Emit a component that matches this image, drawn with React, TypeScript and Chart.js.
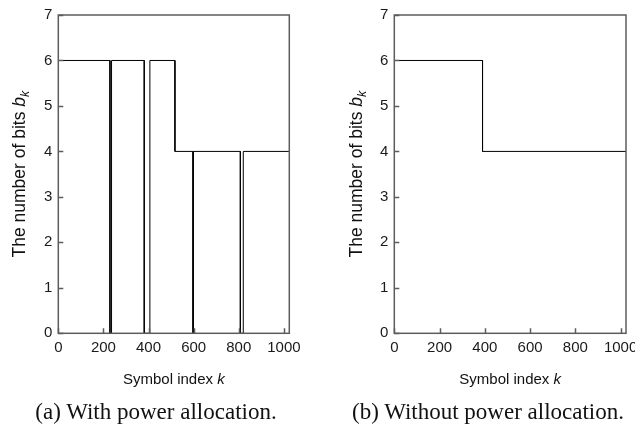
import React, { useEffect, useRef } from "react";
import { Chart, registerables } from "chart.js";
Chart.register(...registerables);

// ---- data ----
const X_MIN = 0;
const X_MAX = 1024;
const Y_MIN = 0;
const Y_MAX = 7;
const xTickValues = [0, 200, 400, 600, 800, 1000];
const yTickValues = [0, 1, 2, 3, 4, 5, 6, 7];

// (a) with power allocation: stair vertices (symbol index, bits)
const withPAIndex = [0, 229, 229, 236, 236, 381, 381, 406, 406, 517, 517, 597, 597, 599, 599, 807, 807, 820, 820, 1024];
const withPABits = [6, 6, 0, 0, 6, 6, 0, 0, 6, 6, 4, 4, 0, 0, 4, 4, 0, 0, 4, 4];

// (b) without power allocation
const withoutPAIndex = [0, 390, 390, 1024];
const withoutPABits = [6, 6, 4, 4];

const xTitle = "Symbol index ";
const xTitleVar = "k";
const yTitle = "The number of bits ";
const yTitleVar = "b";
const yTitleSub = "k";
const captionA = "(a) With power allocation.";
const captionB = "(b) Without power allocation.";

const SANS = "'Liberation Sans', Arial, Helvetica, sans-serif";
const TICK_FONT = 15;
const XT_FONT = 15;
const YT_FONT = 17.5;

type Cfg = {
  xs: number[];
  ys: number[];
  width: number;
  height: number;
  yAxisWidth: number;
  padRight: number;
  padTop: number;
  xAxisHeight: number;
  yTitleX: number;
  xTitleY: number;
};

const framePlugin = {
  id: "frame",
  afterDatasetsDraw(chart: any, _args: any, opts: any) {
    const { ctx, chartArea: a } = chart;
    const xs = chart.scales.x;
    const ys = chart.scales.y;
    ctx.save();
    ctx.strokeStyle = "#5c5c5c";
    ctx.lineWidth = 1.5;
    // inner ticks
    ctx.beginPath();
    for (const v of xTickValues) {
      const px = Math.round(xs.getPixelForValue(v)) + 0.5;
      ctx.moveTo(px, a.bottom);
      ctx.lineTo(px, a.bottom - 5);
    }
    for (const v of yTickValues) {
      const py = Math.round(ys.getPixelForValue(v)) + 0.5;
      ctx.moveTo(a.left, py);
      ctx.lineTo(a.left + 5, py);
    }
    ctx.stroke();
    ctx.strokeRect(a.left, a.top, a.right - a.left, a.bottom - a.top);

    // x title
    ctx.fillStyle = "#111";
    ctx.textBaseline = "middle";
    ctx.font = `${XT_FONT}px ${SANS}`;
    const w1 = ctx.measureText(xTitle).width;
    ctx.font = `italic ${XT_FONT}px ${SANS}`;
    const w2 = ctx.measureText(xTitleVar).width;
    const cx = (a.left + a.right) / 2;
    const x0 = cx - (w1 + w2) / 2;
    ctx.font = `${XT_FONT}px ${SANS}`;
    ctx.textAlign = "left";
    ctx.fillText(xTitle, x0, opts.xTitleY);
    ctx.font = `italic ${XT_FONT}px ${SANS}`;
    ctx.fillText(xTitleVar, x0 + w1, opts.xTitleY);

    // y title (rotated)
    ctx.save();
    const cy = (a.top + a.bottom) / 2;
    ctx.translate(opts.yTitleX, cy);
    ctx.rotate(-Math.PI / 2);
    ctx.font = `${YT_FONT}px ${SANS}`;
    const t1 = ctx.measureText(yTitle).width;
    ctx.font = `italic ${YT_FONT}px ${SANS}`;
    const t2 = ctx.measureText(yTitleVar).width;
    ctx.font = `italic ${YT_FONT * 0.7}px ${SANS}`;
    const t3 = ctx.measureText(yTitleSub).width;
    const s = -(t1 + t2 + t3) / 2;
    ctx.textBaseline = "alphabetic";
    const base = YT_FONT * 0.36;
    ctx.font = `${YT_FONT}px ${SANS}`;
    ctx.fillText(yTitle, s, base);
    ctx.font = `italic ${YT_FONT}px ${SANS}`;
    ctx.fillText(yTitleVar, s + t1, base);
    ctx.font = `italic ${YT_FONT * 0.7}px ${SANS}`;
    ctx.fillText(yTitleSub, s + t1 + t2, base + YT_FONT * 0.2);
    ctx.restore();
    ctx.restore();
  },
};

function StairChart(props: { cfg: Cfg; left: number }) {
  const ref = useRef<HTMLCanvasElement | null>(null);
  const { cfg } = props;
  useEffect(() => {
    if (!ref.current) return;
    const data = cfg.xs.map((x, i) => ({ x, y: cfg.ys[i] }));
    const chart = new Chart(ref.current, {
      type: "line",
      data: {
        datasets: [
          {
            data,
            borderColor: "#000",
            borderWidth: 1,
            pointRadius: 0,
            tension: 0,
            fill: false,
          },
        ],
      },
      options: {
        animation: false,
        responsive: false,
        devicePixelRatio: 1,
        layout: { padding: { left: 0, right: cfg.padRight, top: cfg.padTop, bottom: 0 } },
        plugins: {
          legend: { display: false },
          tooltip: { enabled: false },
          frame: { yTitleX: cfg.yTitleX, xTitleY: cfg.xTitleY },
        } as any,
        scales: {
          x: {
            type: "linear",
            min: X_MIN,
            max: X_MAX,
            grid: { display: false, drawTicks: false },
            border: { display: false },
            afterBuildTicks: (s: any) => {
              s.ticks = xTickValues.map((v) => ({ value: v }));
            },
            ticks: {
              autoSkip: false,
              maxRotation: 0,
              minRotation: 0,
              padding: 6,
              color: "#1a1a1a",
              font: { family: SANS, size: TICK_FONT },
              callback: (v: any) => String(v),
            },
            afterFit: (s: any) => {
              s.height = cfg.xAxisHeight;
            },
          },
          y: {
            type: "linear",
            min: Y_MIN,
            max: Y_MAX,
            grid: { display: false, drawTicks: false },
            border: { display: false },
            afterBuildTicks: (s: any) => {
              s.ticks = yTickValues.map((v) => ({ value: v }));
            },
            ticks: {
              padding: 6,
              color: "#1a1a1a",
              font: { family: SANS, size: TICK_FONT },
              callback: (v: any) => String(v),
            },
            afterFit: (s: any) => {
              s.width = cfg.yAxisWidth;
            },
          },
        },
      },
      plugins: [framePlugin as any],
    });
    return () => chart.destroy();
  }, []);
  return (
    <canvas
      ref={ref}
      width={cfg.width}
      height={cfg.height}
      style={{ position: "absolute", left: props.left, top: 0, width: cfg.width, height: cfg.height }}
    />
  );
}

const cfgA: Cfg = {
  xs: withPAIndex,
  ys: withPABits,
  width: 320,
  height: 400,
  yAxisWidth: 58.3,
  padRight: 320 - 289.3,
  padTop: 14,
  xAxisHeight: 400 - 333.3,
  yTitleX: 19,
  xTitleY: 380,
};

const cfgB: Cfg = {
  xs: withoutPAIndex,
  ys: withoutPABits,
  width: 340,
  height: 400,
  yAxisWidth: 394.3 - 320,
  padRight: 340 - (626 - 320),
  padTop: 14,
  xAxisHeight: 400 - 333.3,
  yTitleX: 356 - 320,
  xTitleY: 380,
};

export default function App() {
  const capStyle = (cx: number): React.CSSProperties => ({
    position: "absolute",
    left: cx - 200,
    width: 400,
    top: 400,
    textAlign: "center",
    fontFamily: "'Liberation Serif', 'Times New Roman', serif",
    fontSize: 23,
    lineHeight: "24px",
    color: "#111",
    whiteSpace: "nowrap",
  });
  return (
    <div
      style={{
        position: "absolute",
        left: 0,
        top: 0,
        width: 635,
        height: 439,
        overflow: "hidden",
        background: "#fff",
      }}
    >
      <StairChart cfg={cfgA} left={0} />
      <StairChart cfg={cfgB} left={320} />
      <div style={capStyle(156)}>{captionA}</div>
      <div style={capStyle(488)}>{captionB}</div>
    </div>
  );
}
